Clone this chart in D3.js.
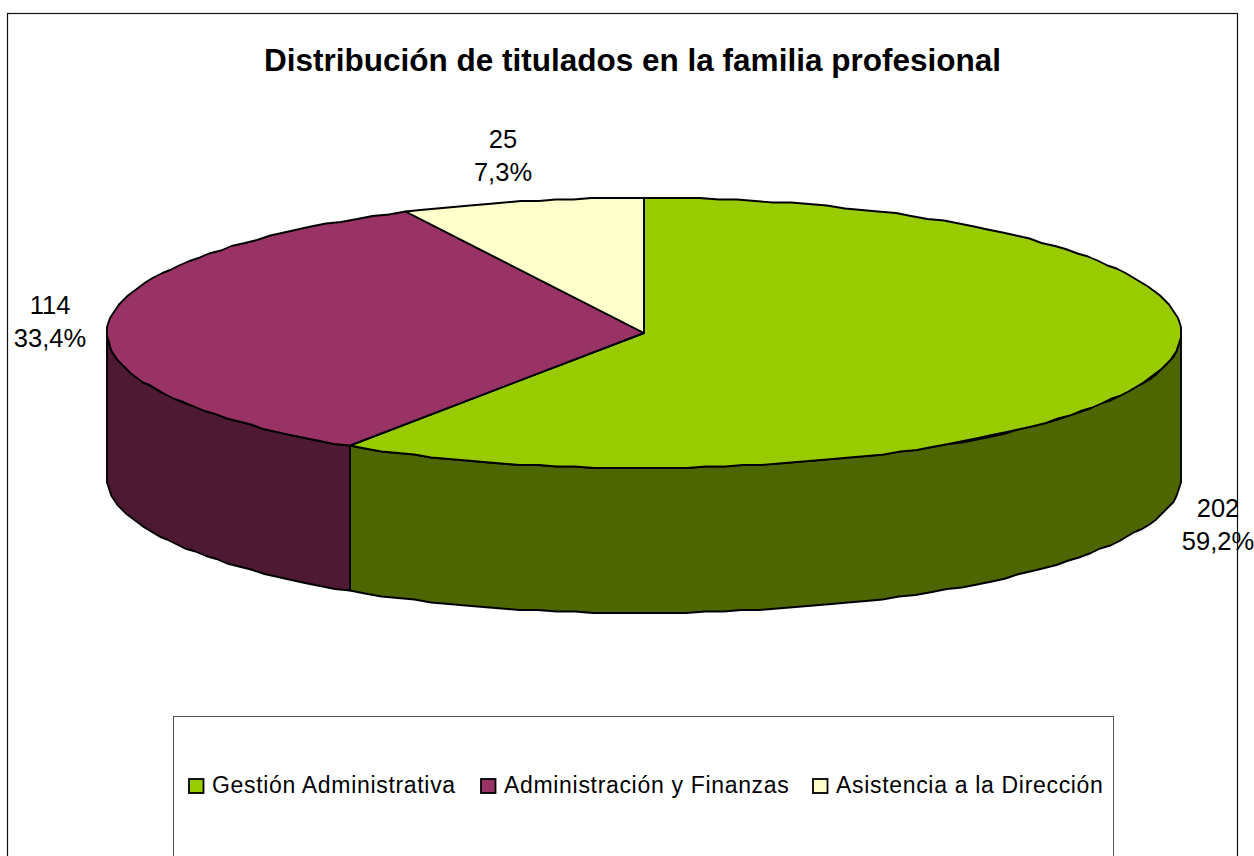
<!DOCTYPE html>
<html><head><meta charset="utf-8"><script src="https://cdnjs.cloudflare.com/ajax/libs/d3/7.8.5/d3.min.js"></script>
<style>html,body{margin:0;background:#fff}svg{display:block}text{font-family:"Liberation Sans",Arial,sans-serif;fill:#000}</style></head>
<body><svg id="c" width="1254" height="856"></svg>
<script>
const titleText = "Distribución de titulados en la familia profesional";
const categories = ["Gestión Administrativa", "Administración y Finanzas", "Asistencia a la Dirección"];
const counts = [202, 114, 25];
const percentLabels = ["59,2%", "33,4%", "7,3%"];
const topColors = ["#99cc00", "#993366", "#ffffcc"];
const sideColors = ["#4d6600", "#4d1933", "#808066"];

const svg = d3.select("#c");
const frame = {l: 7.5, t: 13.5, r: 1237.5, b: 900};
svg.append("rect").attr("x", frame.l).attr("y", frame.t).attr("width", frame.r - frame.l).attr("height", frame.b - frame.t)
  .attr("fill", "#fff").attr("stroke", "#111").attr("stroke-width", 1.2);

svg.append("text").attr("x", 632.5).attr("y", 71).attr("text-anchor", "middle")
  .attr("font-size", 31.5).attr("font-weight", "bold").text(titleText);

// Projection of the unit disc to the tilted ellipse
const depth = 145;
const px = d3.scaleLinear().domain([-1, 1]).range([107, 1181]);
const py = d3.scaleLinear().domain([-1, 1]).range([198, 468]);
const pie = d3.pie().sort(null).value(d => d);
const arcs = pie(counts);
const grid = 1.5;
const snapX = v => px(0) + Math.round((v - px(0)) / grid) * grid;
const snapY = v => py(0) + Math.round((v - py(0)) / grid) * grid;
const pt = a => [snapX(px(Math.sin(a))), snapY(py(-Math.cos(a)))];
const rimPts = (a0, a1) => d3.range(0, Math.max(1, Math.ceil((a1 - a0) / 0.035)) + 1)
  .map((i, _, r) => pt(a0 + (a1 - a0) * i / (r.length - 1)));
const line = d3.line();
const styled = (sel) => sel.attr("stroke", "#000").attr("stroke-width", 1.9).attr("stroke-linejoin", "round");

// Side walls: only the front half (angles between PI/2 and 3PI/2) is visible
const front = [Math.PI / 2, 3 * Math.PI / 2];
arcs.forEach((d, i) => {
  const a0 = Math.max(d.startAngle, front[0]), a1 = Math.min(d.endAngle, front[1]);
  if (a1 <= a0) return;
  const top = rimPts(a0, a1);
  const bottom = top.map(p => [p[0], p[1] + depth]).reverse();
  styled(svg.append("path").attr("d", line(top.concat(bottom)) + "Z").attr("fill", sideColors[i]));
});

// Top faces
const center = [px(0), py(0)];
arcs.forEach((d, i) => {
  styled(svg.append("path").attr("d", line([center].concat(rimPts(d.startAngle, d.endAngle))) + "Z").attr("fill", topColors[i]));
});

// Data labels
const labelPos = [[1218, 517], [50, 314], [503, 148]];
arcs.forEach((d, i) => {
  const t = svg.append("text").attr("text-anchor", "middle").attr("font-size", 25.5);
  t.append("tspan").attr("x", labelPos[i][0]).attr("y", labelPos[i][1]).text(counts[i]);
  t.append("tspan").attr("x", labelPos[i][0]).attr("y", labelPos[i][1] + 33).text(percentLabels[i]);
});

// Legend
svg.append("rect").attr("x", 173.5).attr("y", 716.5).attr("width", 940).attr("height", 200)
  .attr("fill", "#fff").attr("stroke", "#555").attr("stroke-width", 1);
const swatchX = [189, 481, 813];
categories.forEach((name, i) => {
  svg.append("rect").attr("x", swatchX[i]).attr("y", 779).attr("width", 14.5).attr("height", 14)
    .attr("fill", topColors[i]).attr("stroke", "#000").attr("stroke-width", 1.8);
  svg.append("text").attr("x", swatchX[i] + 23).attr("y", 793).attr("font-size", 23).attr("letter-spacing", 0.68).text(name);
});
</script></body></html>
